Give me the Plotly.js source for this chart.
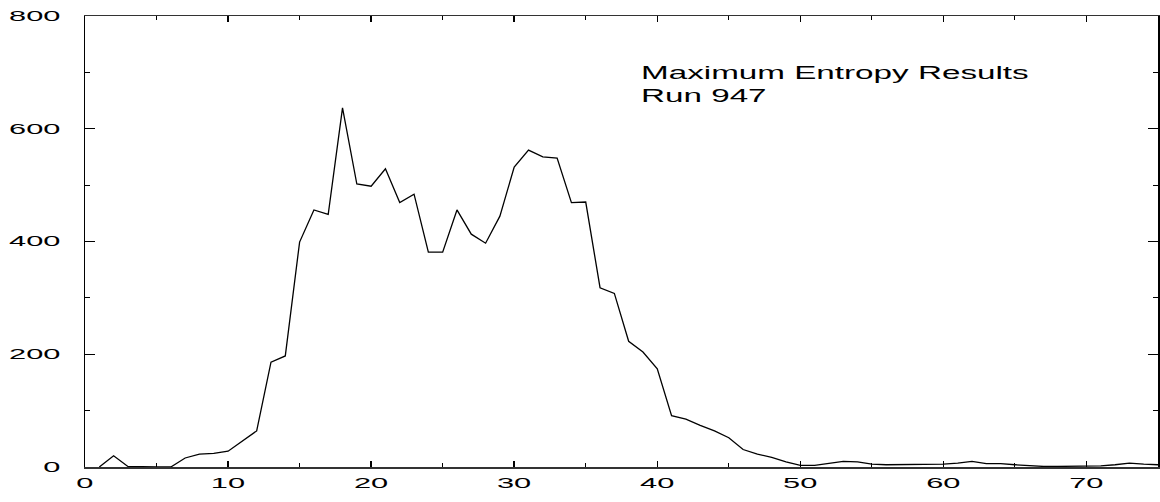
<!DOCTYPE html>
<html>
<head>
<meta charset="utf-8">
<script src="https://cdn.plot.ly/plotly-3.0.1.min.js"></script>
<style>
  html, body { margin: 0; padding: 0; background: #fff; }
  #chart { width: 1160px; height: 502px; }
</style>
</head>
<body>
<div id="chart"></div>
<script>
// Channel index (x) and reconstructed intensity (y)
const channels = [1,2,3,4,5,6,7,8,9,10,11,12,13,14,15,16,17,18,19,20,
  21,22,23,24,25,26,27,28,29,30,31,32,33,34,35,36,37,38,39,40,
  41,42,43,44,45,46,47,48,49,50,51,52,53,54,55,56,57,58,59,60,
  61,62,63,64,65,66,67,68,69,70,71,72,73,74,75];
const intensity = [0,20,1,0,0,0,16,23,24,28,46,64,186,197,399,456,448,637,502,498,
  529,469,484,381,381,456,413,397,445,532,562,550,548,469,470,318,308,223,204,174,
  91,85,74,64,52,31,23,17,9,3,3,7,10,9,5,4,4,4,4,5,
  7,10,6,6,4,2,1,1,1,1,2,4,7,5,4];
const xTickValues = [0,10,20,30,40,50,60,70];
const yTickValues = [0,200,400,600,800];
const annotationLines = ["Maximum Entropy Results", "Run 947"];

const FONT = "Liberation Sans, Arial, Helvetica, sans-serif";

const trace = {
  x: channels,
  y: intensity,
  type: "scatter",
  mode: "lines",
  line: { color: "#000", width: 1.3 },
  hoverinfo: "skip"
};

const layout = {
  width: 1160,
  height: 502,
  margin: { l: 85, r: 2, t: 16, b: 35, pad: 0 },
  paper_bgcolor: "#fff",
  plot_bgcolor: "#fff",
  showlegend: false,
  font: { family: FONT, color: "#000", size: 14 },
  xaxis: {
    range: [0, 75],
    tickmode: "array",
    tickvals: xTickValues,
    ticktext: xTickValues.map(String),
    ticks: "inside",
    ticklen: 6,
    tickwidth: 1.5,
    tickcolor: "#000",
    showline: true,
    linecolor: "#333",
    linewidth: 1.5,
    mirror: "ticks",
    showgrid: false,
    zeroline: false,
    ticklabelstandoff: 3,
    tickfont: { family: FONT, size: 14, color: "#000" },
    minor: { dtick: 5, tick0: 0, ticks: "inside", ticklen: 4, tickwidth: 1, tickcolor: "#000", showgrid: false }
  },
  yaxis: {
    range: [0, 800],
    tickmode: "array",
    tickvals: yTickValues,
    ticktext: yTickValues.map(String),
    ticks: "inside",
    ticklen: 10,
    tickwidth: 1,
    tickcolor: "#000",
    showline: true,
    linecolor: "#000",
    linewidth: 1.5,
    mirror: "ticks",
    showgrid: false,
    zeroline: false,
    ticklabelstandoff: 20,
    tickfont: { family: FONT, size: 14, color: "#000" },
    minor: { dtick: 100, tick0: 0, ticks: "inside", ticklen: 5, tickwidth: 1, tickcolor: "#000", showgrid: false }
  },
  annotations: [{
    xref: "paper", yref: "paper",
    x: 0.516, y: 0.900,
    xanchor: "left", yanchor: "top",
    align: "left",
    showarrow: false,
    text: annotationLines.join("<br>"),
    font: { family: FONT, size: 17.5, color: "#000" }
  }]
};

function stretch(sel, s, anchor) {
  document.querySelectorAll(sel).forEach(function (el) {
    if (el.getAttribute("data-st")) return;
    const b = el.getBBox();
    const ax = anchor === "left" ? b.x : anchor === "right" ? b.x + b.width : b.x + b.width / 2;
    const old = el.getAttribute("transform") || "";
    el.setAttribute("transform", old + " translate(" + ax + ",0) scale(" + s + ",1) translate(" + (-ax) + ",0)");
    el.setAttribute("data-st", "1");
  });
}

Plotly.newPlot("chart", [trace], layout, { staticPlot: true, displayModeBar: false }).then(function () {
  stretch(".xtick text", 2.2, "center");
  stretch(".ytick text", 2.2, "right");
  stretch(".annotation-text", 1.9, "left");
});
</script>
</body>
</html>
